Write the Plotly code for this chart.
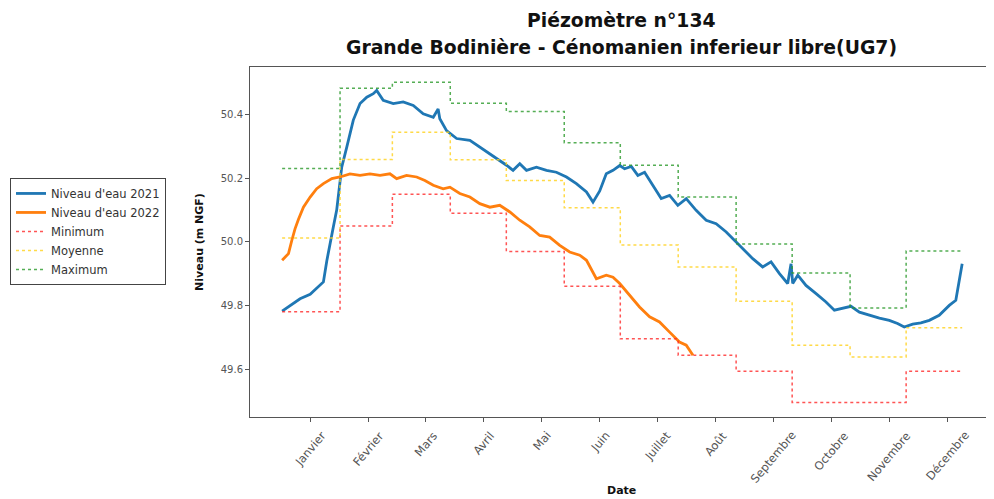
import plotly.graph_objects as go
import calendar

# ---------------- data ----------------
MONTH_LABELS = ["Janvier", "Février", "Mars", "Avril", "Mai", "Juin", "Juillet",
                "Août", "Septembre", "Octobre", "Novembre", "Décembre"]
TICK_DAYS = [15, 46, 77, 108, 139, 170, 201, 232, 263, 294, 325, 356]
Y_TICKS = [49.6, 49.8, 50.0, 50.2, 50.4]

# day of year (0 = 1 January) and level (m NGF)
DAYS_2021 = [0, 4.3, 9.6, 15, 20.3, 22.1, 23.9, 25.7, 27.4, 29.2, 30.1, 31.9, 34.6, 38.1,
             41.7, 45.3, 48.8, 50.6, 54.1, 59.5, 64.8, 70.2, 75.5, 80.9, 83.5, 84.4, 88,
             93.4, 100.5, 105.8, 112.9, 120.1, 123.6, 127.2, 130.8, 136.1, 141.5, 146.8,
             152.2, 157.5, 162.9, 166.4, 170, 173.5, 177.1, 180.7, 183.3, 186.9, 190.4,
             194, 198.4, 202.9, 207.4, 211.8, 216.3, 221.6, 227, 232.3, 237.7, 243,
             248.4, 251.9, 257.2, 261.7, 266.2, 270.6, 272.4, 273.3, 276, 280.4, 285.8,
             291.1, 295.6, 300, 304.5, 309, 314.3, 319.7, 325, 329.4, 333, 337.5, 341.9,
             346.4, 351.7, 357.1, 360.6, 362.4, 364]
LEVEL_2021 = [49.782, 49.800, 49.821, 49.835, 49.863, 49.874, 49.940, 50.000, 50.047,
              50.100, 50.152, 50.235, 50.298, 50.383, 50.435, 50.455, 50.466, 50.476,
              50.445, 50.435, 50.440, 50.429, 50.403, 50.392, 50.418, 50.387, 50.350,
              50.325, 50.319, 50.298, 50.272, 50.241, 50.225, 50.246, 50.225, 50.235,
              50.225, 50.219, 50.204, 50.183, 50.157, 50.125, 50.160, 50.214, 50.225,
              50.240, 50.230, 50.237, 50.209, 50.219, 50.178, 50.136, 50.146, 50.115,
              50.136, 50.099, 50.068, 50.057, 50.031, 49.999, 49.968, 49.947, 49.921,
              49.937, 49.900, 49.869, 49.931, 49.869, 49.895, 49.863, 49.837, 49.811,
              49.785, 49.790, 49.797, 49.779, 49.769, 49.760, 49.753, 49.743, 49.732,
              49.741, 49.745, 49.753, 49.769, 49.800, 49.816, 49.879, 49.931]

DAYS_2022 = [0, 3.4, 5.2, 6.9, 8.7, 11.4, 15, 18.5, 22.1, 26.6, 31, 36.3, 41.7, 47, 52.4,
             57.7, 61.3, 66.6, 72, 76.4, 80.9, 86.2, 89.8, 95.1, 100.5, 105.8, 111.2,
             116.5, 121.9, 127.2, 132.5, 137.9, 143.2, 148.6, 153.9, 159.3, 162.9, 168.2,
             173.5, 177.1, 180.7, 186, 191.3, 196.7, 202, 207.4, 212.7, 216.3, 219.9]
LEVEL_2022 = [49.942, 49.963, 50.005, 50.041, 50.070, 50.109, 50.141, 50.167, 50.183,
              50.199, 50.204, 50.214, 50.209, 50.214, 50.209, 50.214, 50.199, 50.209,
              50.204, 50.193, 50.178, 50.167, 50.172, 50.152, 50.141, 50.120, 50.109,
              50.115, 50.094, 50.068, 50.047, 50.020, 50.015, 49.989, 49.968, 49.958,
              49.942, 49.884, 49.895, 49.889, 49.869, 49.832, 49.795, 49.764, 49.748,
              49.716, 49.685, 49.675, 49.643]

# monthly statistics (January ... December)
MINIMUM = [49.78, 50.05, 50.15, 50.09, 49.97, 49.86, 49.695, 49.643, 49.593, 49.495, 49.495, 49.593]
MOYENNE = [50.012, 50.259, 50.345, 50.258, 50.193, 50.107, 49.99, 49.921, 49.813, 49.675, 49.638, 49.73]
MAXIMUM = [50.231, 50.483, 50.502, 50.436, 50.41, 50.312, 50.241, 50.141, 49.993, 49.902, 49.792, 49.971]

# month boundaries (day of year) from the calendar
month_len = [calendar.monthrange(2021, m)[1] for m in range(1, 13)]
month_start = [sum(month_len[:i]) for i in range(12)]
step_x = month_start + [sum(month_len) - 1]


def step_y(vals):
    return vals + [vals[-1]]


fig = go.Figure()
fig.add_trace(go.Scatter(x=DAYS_2021, y=LEVEL_2021, mode="lines", name="Niveau d'eau 2021",
                         line=dict(color="#1f77b4", width=2.8)))
fig.add_trace(go.Scatter(x=DAYS_2022, y=LEVEL_2022, mode="lines", name="Niveau d'eau 2022",
                         line=dict(color="#ff7f0e", width=2.8)))
fig.add_trace(go.Scatter(x=step_x, y=step_y(MINIMUM), mode="lines", name="Minimum",
                         line=dict(color="#ff2a2a", width=1.5, dash="dot", shape="hv"),
                         opacity=0.8))
fig.add_trace(go.Scatter(x=step_x, y=step_y(MOYENNE), mode="lines", name="Moyenne",
                         line=dict(color="#ffd21a", width=1.5, dash="dot", shape="hv"),
                         opacity=0.8))
fig.add_trace(go.Scatter(x=step_x, y=step_y(MAXIMUM), mode="lines", name="Maximum",
                         line=dict(color="#2b9a2b", width=1.5, dash="dot", shape="hv"),
                         opacity=0.8))

axis_line = "#555555"
fig.update_xaxes(range=[-17.2, 380.5], tickmode="array", tickvals=TICK_DAYS,
                 showticklabels=False, ticks="outside", ticklen=4, tickcolor=axis_line,
                 showline=True, linecolor=axis_line, linewidth=1, mirror=True,
                 showgrid=False, zeroline=False)
fig.update_yaxes(range=[49.449, 50.550], tickmode="array", tickvals=Y_TICKS,
                 ticktext=[f"{v:.1f}" for v in Y_TICKS], ticks="outside", ticklen=4,
                 tickcolor=axis_line, showline=True, linecolor=axis_line, linewidth=1,
                 mirror=True, showgrid=False, zeroline=False,
                 tickfont=dict(family="DejaVu Sans", size=10, color="#555555"),
                 title=dict(text="<b>Niveau (m NGF)</b>", standoff=14,
                            font=dict(family="DejaVu Sans", size=11, color="#111111")))

annotations = []
for d, lab in zip(TICK_DAYS, MONTH_LABELS):
    annotations.append(dict(x=d, y=0, xref="x", yref="paper", text=lab, showarrow=False,
                            textangle=-50, xanchor="center", yanchor="top", yshift=-9,
                            font=dict(family="DejaVu Sans", size=11.5, color="#555555")))
annotations.append(dict(x=0.5, y=0, xref="paper", yref="paper", text="<b>Date</b>",
                        showarrow=False, xanchor="center", yanchor="middle", yshift=-73,
                        font=dict(family="DejaVu Sans", size=11, color="#111111")))
annotations.append(dict(x=0.5, y=1, xref="paper", yref="paper", text="<b>Piézomètre n°134</b>",
                        showarrow=False, xanchor="center", yanchor="middle", yshift=47,
                        font=dict(family="DejaVu Sans", size=18.8, color="#111111")))
annotations.append(dict(x=0.5, y=1, xref="paper", yref="paper",
                        text="<b>Grande Bodinière - Cénomanien inferieur libre(UG7)</b>",
                        showarrow=False, xanchor="center", yanchor="middle", yshift=20,
                        font=dict(family="DejaVu Sans", size=18.8, color="#111111")))

# the page body has an 8 px margin: the figure is sized so that it fits the window
fig.update_layout(
    width=986, height=491, autosize=False,
    margin=dict(l=242, r=1, t=59, b=82),
    paper_bgcolor="white", plot_bgcolor="white",
    showlegend=True,
    legend=dict(x=-0.323, y=0.683, xanchor="left", yanchor="top",
                bordercolor="#444444", borderwidth=1, bgcolor="white",
                font=dict(family="DejaVu Sans", size=11.5, color="#333333"),
                itemwidth=30, tracegroupgap=0),
    annotations=annotations,
)

fig.write_html("out.html")
